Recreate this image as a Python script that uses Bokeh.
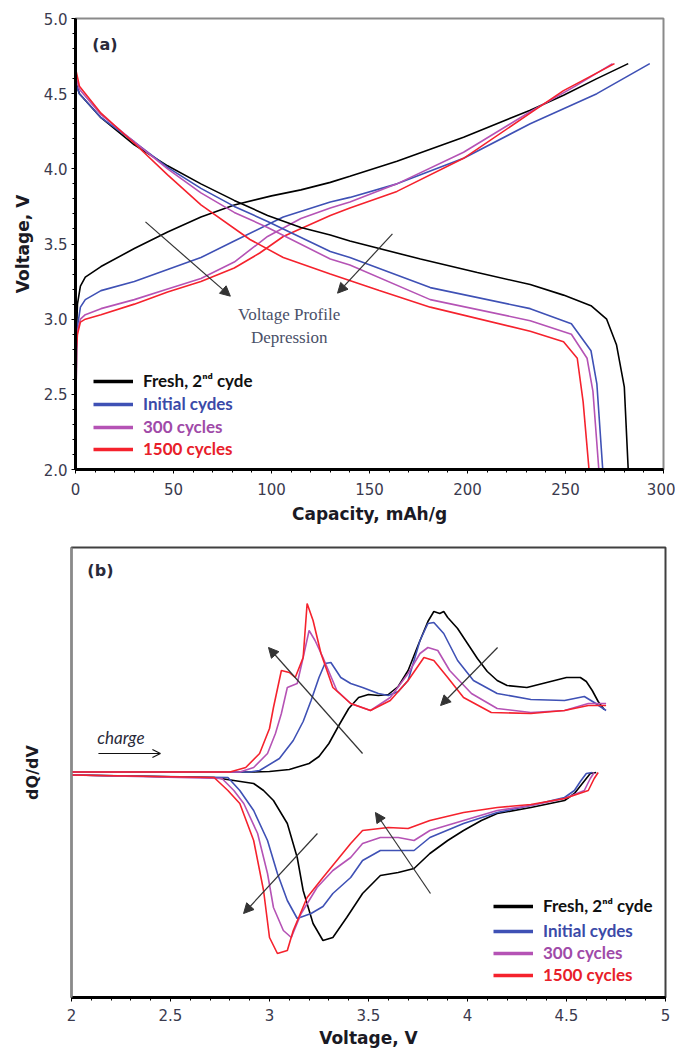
from bokeh.plotting import figure
from bokeh.layouts import column, row
from bokeh.models import (Legend, LegendItem, Arrow, NormalHead, OpenHead, Label,
                          FixedTicker, CustomJSTickFormatter, Range1d)
from bokeh.embed import file_html
from bokeh.resources import INLINE

# ---------------- DATA: panel (a) voltage profiles ----------------
series_names = ["Fresh, 2\u207f\u1d48 cyde", "Initial cydes", "300 cycles", "1500 cycles"]
line_colors = ["#000000", "#3f51b5", "#b553b5", "#f5222d"]
text_colors = ["#111111", "#3b4aa8", "#a04aa8", "#e8202a"]

fresh_chg_cap = [0, 0.5, 1, 2.5, 5, 13, 30, 47, 64, 81, 100, 115, 130, 140, 164, 198, 232, 249, 266, 282]
fresh_chg_v = [2.0, 2.9, 3.1, 3.22, 3.28, 3.35, 3.47, 3.58, 3.68, 3.76, 3.82, 3.86, 3.91, 3.95, 4.05, 4.21, 4.39, 4.49, 4.6, 4.7]
init_chg_cap = [0, 0.5, 1, 2.5, 5, 13, 30, 47, 64, 81, 106, 130, 140, 164, 198, 232, 266, 293]
init_chg_v = [2.0, 2.8, 2.95, 3.08, 3.13, 3.19, 3.25, 3.33, 3.41, 3.52, 3.68, 3.78, 3.81, 3.9, 4.07, 4.3, 4.5, 4.7]
c300_chg_cap = [0, 0.5, 1, 2.5, 5, 13, 30, 47, 64, 81, 98, 115, 130, 140, 164, 198, 232, 255, 274]
c300_chg_v = [2.0, 2.8, 2.92, 3.0, 3.03, 3.07, 3.13, 3.2, 3.27, 3.38, 3.55, 3.67, 3.74, 3.78, 3.9, 4.11, 4.38, 4.55, 4.7]
c1500_chg_cap = [0, 0.5, 1, 2.5, 5, 13, 30, 47, 64, 81, 94, 106, 130, 140, 164, 198, 232, 249, 275]
c1500_chg_v = [2.0, 2.8, 2.9, 2.98, 3.0, 3.03, 3.1, 3.18, 3.25, 3.34, 3.44, 3.55, 3.69, 3.74, 3.85, 4.07, 4.37, 4.52, 4.7]

fresh_dis_cap = [0, 2, 13, 30, 47, 64, 81, 98, 115, 130, 140, 176, 205, 232, 249, 263, 271, 276, 280, 282]
fresh_dis_v = [4.58, 4.5, 4.34, 4.16, 4.02, 3.9, 3.79, 3.69, 3.61, 3.56, 3.52, 3.4, 3.31, 3.23, 3.16, 3.09, 3.0, 2.83, 2.55, 2.0]
init_dis_cap = [0, 2, 13, 30, 47, 64, 81, 98, 130, 140, 181, 232, 253, 263, 266, 269]
init_dis_v = [4.57, 4.5, 4.34, 4.18, 4.01, 3.87, 3.75, 3.65, 3.45, 3.41, 3.21, 3.07, 2.97, 2.79, 2.57, 2.0]
c300_dis_cap = [0, 2, 13, 30, 47, 64, 81, 98, 130, 140, 181, 232, 253, 261, 264, 267]
c300_dis_v = [4.62, 4.53, 4.36, 4.18, 4.0, 3.84, 3.71, 3.61, 3.4, 3.36, 3.13, 2.99, 2.9, 2.74, 2.52, 2.0]
c1500_dis_cap = [0, 2, 13, 30, 47, 64, 89, 106, 130, 155, 181, 232, 249, 256, 259, 262]
c1500_dis_v = [4.67, 4.55, 4.37, 4.17, 3.96, 3.76, 3.53, 3.41, 3.3, 3.19, 3.08, 2.92, 2.85, 2.74, 2.45, 2.0]

# ---------------- DATA: panel (b) dQ/dV (arbitrary units) ----------------
fresh_dqc_v = [2.0, 2.9, 3.0, 3.1, 3.2, 3.25, 3.3, 3.35, 3.4, 3.45, 3.5, 3.55, 3.6, 3.65, 3.7, 3.75, 3.8, 3.83, 3.86, 3.88, 3.9, 3.95, 4.0, 4.05, 4.1, 4.15, 4.2, 4.3, 4.4, 4.5, 4.57, 4.6, 4.63, 4.66, 4.69]
fresh_dqc = [0.15, 0.15, 0.2, 0.4, 1.0, 1.7, 3.0, 4.8, 6.5, 7.6, 7.9, 7.8, 7.9, 8.7, 10.3, 12.8, 15.2, 16.2, 16.0, 16.2, 15.6, 14.5, 13.0, 11.5, 10.2, 9.3, 8.8, 8.6, 9.1, 9.6, 9.6, 9.2, 8.3, 7.2, 6.4]
init_dqc_v = [2.0, 2.9, 2.95, 3.05, 3.12, 3.17, 3.21, 3.25, 3.28, 3.31, 3.36, 3.41, 3.47, 3.55, 3.6, 3.65, 3.7, 3.76, 3.8, 3.83, 3.88, 3.95, 4.03, 4.15, 4.32, 4.49, 4.59, 4.64, 4.7]
init_dqc = [0.15, 0.15, 0.3, 1.5, 3.3, 5.2, 7.3, 9.6, 11.0, 11.1, 9.6, 9.0, 8.6, 8.0, 7.8, 8.2, 9.3, 13.3, 15.0, 15.1, 14.0, 11.3, 9.3, 8.0, 7.4, 7.3, 7.7, 7.1, 6.3]
c300_dqc_v = [2.0, 2.85, 2.92, 2.99, 3.03, 3.06, 3.09, 3.14, 3.17, 3.2, 3.23, 3.27, 3.34, 3.41, 3.51, 3.61, 3.7, 3.76, 3.8, 3.85, 3.91, 4.02, 4.15, 4.32, 4.49, 4.61, 4.7]
c300_dqc = [0.15, 0.15, 0.6, 2.0, 4.0, 6.0, 8.6, 9.0, 11.6, 14.3, 13.3, 11.6, 8.3, 7.0, 6.3, 7.6, 10.0, 12.0, 12.6, 12.3, 10.3, 8.0, 6.5, 6.1, 6.3, 7.0, 7.0]
c1500_dqc_v = [2.0, 2.8, 2.88, 2.95, 3.0, 3.02, 3.06, 3.1, 3.13, 3.17, 3.19, 3.22, 3.26, 3.32, 3.41, 3.51, 3.61, 3.7, 3.78, 3.83, 3.9, 3.98, 4.12, 4.32, 4.49, 4.61, 4.7]
c1500_dqc = [0.15, 0.15, 0.6, 2.0, 4.5, 6.6, 10.3, 10.1, 9.6, 11.6, 17.0, 15.3, 12.0, 8.6, 7.0, 6.3, 7.3, 9.3, 11.6, 11.3, 9.6, 7.6, 6.1, 6.0, 6.3, 6.8, 6.8]

fresh_dqd_v = [2.0, 2.72, 2.92, 2.97, 3.02, 3.09, 3.14, 3.17, 3.22, 3.27, 3.32, 3.39, 3.47, 3.56, 3.65, 3.73, 3.81, 3.9, 3.98, 4.07, 4.15, 4.32, 4.49, 4.54, 4.58, 4.62, 4.65]
fresh_dqd = [-0.15, -0.4, -1.0, -1.7, -2.7, -5.0, -8.4, -11.7, -15.0, -16.7, -16.4, -14.4, -12.0, -10.2, -9.9, -9.5, -8.0, -6.7, -5.7, -4.7, -4.0, -3.4, -2.7, -2.0, -1.0, 0.0, 0.1]
init_dqd_v = [2.0, 2.79, 2.85, 2.92, 2.99, 3.04, 3.09, 3.14, 3.21, 3.27, 3.32, 3.41, 3.47, 3.56, 3.65, 3.73, 3.81, 3.98, 4.15, 4.32, 4.49, 4.54, 4.57, 4.6, 4.63]
init_dqd = [-0.15, -0.4, -1.7, -3.7, -6.7, -10.0, -12.7, -14.5, -14.0, -13.3, -12.0, -10.4, -8.7, -7.7, -7.7, -7.7, -6.4, -5.0, -3.9, -3.2, -2.4, -1.7, -0.8, 0.0, 0.1]
c300_dqd_v = [2.0, 2.76, 2.82, 2.87, 2.94, 2.99, 3.02, 3.07, 3.11, 3.16, 3.24, 3.32, 3.41, 3.47, 3.56, 3.65, 3.73, 3.81, 3.98, 4.15, 4.32, 4.49, 4.59, 4.62, 4.64]
c300_dqd = [-0.15, -0.5, -1.7, -3.0, -6.0, -10.0, -13.4, -15.7, -16.4, -14.0, -11.4, -9.7, -8.4, -7.0, -6.4, -6.4, -6.7, -5.7, -4.7, -3.7, -3.2, -2.5, -1.7, -0.5, 0.1]
c1500_dqd_v = [2.0, 2.72, 2.79, 2.85, 2.92, 2.97, 3.0, 3.04, 3.09, 3.12, 3.19, 3.27, 3.41, 3.47, 3.6, 3.7, 3.81, 3.98, 4.15, 4.32, 4.49, 4.61, 4.64, 4.66]
c1500_dqd = [-0.15, -0.4, -1.7, -3.0, -6.7, -11.7, -16.4, -18.0, -17.7, -15.7, -12.4, -10.4, -7.0, -5.7, -5.4, -5.5, -4.7, -3.9, -3.4, -3.1, -2.5, -1.7, -0.5, 0.1]

# annotation arrows (data coords): x_start, y_start, x_end, y_end
arrows_a = [(35.7, 3.647, 79.0, 3.153), (161.7, 3.567, 133.7, 3.173)]
arrows_b = [(3.47, 2.0, 2.995, 12.6), (4.152, 12.6, 3.864, 6.8),
            (3.242, -6.0, 2.869, -14.0), (3.813, -12.0, 3.535, -3.9)]
charge_arrow = (2.136, 2.0, 2.449, 2.0)

AX_FONT = "DejaVu Sans"
LEG_FONT = "Lato"
NAN = float("nan")


def style_axes(p):
    p.grid.visible = False
    for ax in [p.xaxis[0], p.yaxis[0]]:
        ax.major_label_text_font = AX_FONT
        ax.major_label_text_font_size = "15px"
        ax.major_label_text_color = "#3a3a4e"
        ax.axis_label_text_font = AX_FONT
        ax.axis_label_text_font_style = "bold"
        ax.axis_label_text_font_size = "17px"
        ax.axis_label_text_color = "#1a1a24"
        ax.major_tick_line_color = "black"
        ax.minor_tick_line_color = "black"
        ax.major_tick_in = 0
        ax.major_tick_out = 4
        ax.minor_tick_in = 0
        ax.minor_tick_out = 3


def add_legend(p, x, ys):
    for i, (name, lc, tc) in enumerate(zip(series_names, line_colors, text_colors)):
        r = p.line(x=[NAN, NAN], y=[NAN, NAN], line_color=lc, line_width=3.5)
        lg = Legend(items=[LegendItem(label=name, renderers=[r])], location=(x, ys[i]),
                    margin=0, padding=0, spacing=0, glyph_width=40, glyph_height=16,
                    label_height=16, label_standoff=10, border_line_alpha=0,
                    background_fill_alpha=0, label_text_font=LEG_FONT,
                    label_text_font_style="bold", label_text_font_size="17px",
                    label_text_color=tc)
        p.add_layout(lg)


# ---------------- Panel (a) ----------------
p1 = figure(width=675, height=535, x_range=Range1d(0, 300), y_range=Range1d(2, 5),
            output_backend="svg", toolbar_location=None,
            min_border_left=75, min_border_right=12, min_border_top=18, min_border_bottom=66)
style_axes(p1)
p1.outline_line_color = "#8a8a8a"
p1.outline_line_width = 2
p1.xaxis.axis_line_width = 3
p1.yaxis.axis_line_width = 3
p1.xaxis.ticker = FixedTicker(ticks=[0, 50, 100, 150, 200, 250, 300],
                              minor_ticks=list(range(0, 301, 10)))
p1.yaxis.ticker = FixedTicker(ticks=[2.0, 2.5, 3.0, 3.5, 4.0, 4.5, 5.0],
                              minor_ticks=[2 + 0.1 * i for i in range(31)])
p1.yaxis.formatter = CustomJSTickFormatter(code="return tick.toFixed(1);")
p1.xaxis.axis_label = "Capacity, mAh/g"
p1.yaxis.axis_label = "Voltage, V"
p1.xaxis.major_label_standoff = 9
p1.yaxis.major_label_standoff = 4
p1.xaxis.axis_label_standoff = 6
p1.yaxis.axis_label_standoff = 8

a_chg = [(fresh_chg_cap, fresh_chg_v), (init_chg_cap, init_chg_v),
         (c300_chg_cap, c300_chg_v), (c1500_chg_cap, c1500_chg_v)]
a_dis = [(fresh_dis_cap, fresh_dis_v), (init_dis_cap, init_dis_v),
         (c300_dis_cap, c300_dis_v), (c1500_dis_cap, c1500_dis_v)]
for (x, y), c in zip(a_chg, line_colors):
    p1.line(x, y, line_color=c, line_width=1.6)
for (x, y), c in zip(a_dis, line_colors):
    p1.line(x, y, line_color=c, line_width=1.6)

for xs, ys, xe, ye in arrows_a:
    p1.add_layout(Arrow(end=NormalHead(size=10, fill_color="#333333", line_color="#333333"),
                        x_start=xs, y_start=ys, x_end=xe, y_end=ye,
                        line_color="#333333", line_width=1.2))

p1.add_layout(Label(x=8.5, y=4.83, text="(a)", text_font=AX_FONT, text_font_style="bold",
                    text_font_size="16px", text_color="#2a2a3a", text_baseline="middle"))
p1.add_layout(Label(x=109, y=3.03, text="Voltage Profile", text_font="Liberation Serif",
                    text_font_size="17px", text_color="#4a5068", text_align="center",
                    text_baseline="middle"))
p1.add_layout(Label(x=109, y=2.875, text="Depression", text_font="Liberation Serif",
                    text_font_size="17px", text_color="#4a5068", text_align="center",
                    text_baseline="middle"))
add_legend(p1, 18, [78, 55, 32, 10])

# ---------------- Panel (b) ----------------
p2 = figure(width=675, height=518, x_range=Range1d(2, 5), y_range=Range1d(-22.4, 22.6),
            output_backend="svg", toolbar_location=None,
            min_border_left=71, min_border_right=10, min_border_top=12, min_border_bottom=56)
style_axes(p2)
p2.outline_line_color = "#404040"
p2.outline_line_width = 2
p2.xaxis.axis_line_width = 3
p2.yaxis.axis_line_width = 2
p2.yaxis.axis_line_color = "#8a8a8a"
p2.yaxis.ticker = FixedTicker(ticks=[], minor_ticks=[])
p2.xaxis.ticker = FixedTicker(ticks=[2, 2.5, 3, 3.5, 4, 4.5, 5],
                              minor_ticks=[2 + 0.1 * i for i in range(31)])
p2.xaxis.formatter = CustomJSTickFormatter(code="return tick.toString();")
p2.xaxis.axis_label = "Voltage, V"
p2.yaxis.axis_label = "dQ/dV"
p2.yaxis.axis_label_text_font_size = "16px"
p2.xaxis.major_label_standoff = 7
p2.xaxis.axis_label_standoff = 4
p2.yaxis.axis_label_standoff = 30

b_chg = [(fresh_dqc_v, fresh_dqc), (init_dqc_v, init_dqc), (c300_dqc_v, c300_dqc), (c1500_dqc_v, c1500_dqc)]
b_dis = [(fresh_dqd_v, fresh_dqd), (init_dqd_v, init_dqd), (c300_dqd_v, c300_dqd), (c1500_dqd_v, c1500_dqd)]
for (x, y), c in zip(b_chg, line_colors):
    p2.line(x, y, line_color=c, line_width=1.6)
for (x, y), c in zip(b_dis, line_colors):
    p2.line(x, y, line_color=c, line_width=1.6)

for xs, ys, xe, ye in arrows_b:
    p2.add_layout(Arrow(end=NormalHead(size=10, fill_color="#333333", line_color="#333333"),
                        x_start=xs, y_start=ys, x_end=xe, y_end=ye,
                        line_color="#333333", line_width=1.2))
xs, ys, xe, ye = charge_arrow
p2.add_layout(Arrow(end=OpenHead(size=8, line_color="#111111", line_width=1.2),
                    x_start=xs, y_start=ys, x_end=xe, y_end=ye,
                    line_color="#111111", line_width=1.2))
p2.add_layout(Label(x=2.13, y=3.6, text="charge", text_font=LEG_FONT, text_font_style="italic",
                    text_font_size="17px", text_color="#2a2a3a", text_baseline="middle"))
p2.add_layout(Label(x=2.146, y=20.3, text="(b)", text_font=AX_FONT, text_font_style="bold",
                    text_font_size="16px", text_color="#2a2a3a", text_baseline="middle",
                    text_align="center"))
add_legend(p2, 422, [81, 56, 34, 12])

layout = column(row(p1), row(p2), spacing=0)
open("out.html", "w").write(file_html(layout, INLINE))
